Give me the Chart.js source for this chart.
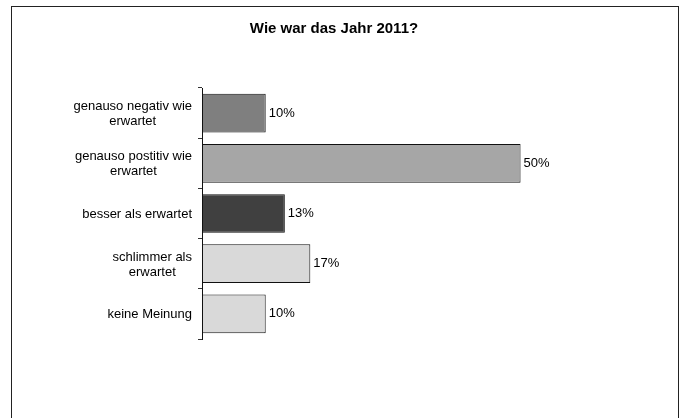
<!DOCTYPE html>
<html>
<head>
<meta charset="utf-8">
<script src="https://cdn.jsdelivr.net/npm/chart.js@4/dist/chart.umd.min.js"></script>
<style>
  html, body { margin: 0; padding: 0; background: #fff; }
  #wrap { position: relative; width: 683px; height: 418px; overflow: hidden; }
  #frame { position: absolute; left: 11px; top: 6px; width: 668px; height: 430px; border: 1.5px solid #222; box-sizing: border-box; }
  canvas { position: absolute; left: 0; top: 0; }
</style>
</head>
<body>
<div id="wrap">
  <div id="frame"></div>
  <canvas id="chart" width="683" height="418"></canvas>
</div>
<script>
// categories (each entry is one label, split into lines)
const categories = [
    ['genauso negativ wie', 'erwartet'],
    ['genauso postitiv wie', 'erwartet'],
    ['besser als erwartet'],
    ['schlimmer als', 'erwartet'],
    ['keine Meinung']
];
const percentValues = [10, 50, 13, 17, 10];
const barColors = ['#7f7f7f', '#a6a6a6', '#404040', '#d9d9d9', '#d9d9d9'];
const chartTitle = 'Wie war das Jahr 2011?';

const FONT = '"Liberation Sans", Arial, sans-serif';

// draws the title, the value labels at bar ends and the centered multi-line category labels
const labelPlugin = {
    id: 'labelPlugin',
    afterDatasetsDraw(chart) {
        const ctx = chart.ctx;
        const meta = chart.getDatasetMeta(0);
        ctx.save();
        ctx.fillStyle = '#000';
        ctx.textBaseline = 'middle';

        ctx.font = 'bold 15px ' + FONT;
        ctx.textAlign = 'center';
        ctx.fillText(chartTitle, 334, 29);

        ctx.font = '13px ' + FONT;
        ctx.textAlign = 'left';
        meta.data.forEach((bar, i) => {
            ctx.fillText(percentValues[i] + '%', bar.x + 3, bar.y);
        });

        const yScale = chart.scales.y;
        const rightEdge = yScale.right - 10;
        const lineH = 15;
        ctx.textAlign = 'center';
        categories.forEach((lines, i) => {
            const cy = yScale.getPixelForValue(i) + 1;
            const w = Math.max(...lines.map(l => ctx.measureText(l).width));
            const cx = rightEdge - w / 2;
            const y0 = cy - (lines.length - 1) * lineH / 2;
            lines.forEach((l, j) => ctx.fillText(l, cx, y0 + j * lineH));
        });
        ctx.restore();
    }
};

new Chart(document.getElementById('chart').getContext('2d'), {
    type: 'bar',
    data: {
        labels: categories.map(c => c.join(' ')),
        datasets: [{
            data: percentValues,
            backgroundColor: barColors,
            borderColor: '#111',
            borderWidth: 1,
            borderSkipped: false,
            categoryPercentage: 1,
            barPercentage: 0.77
        }]
    },
    options: {
        indexAxis: 'y',
        responsive: false,
        animation: false,
        layout: {
            padding: { left: 0, right: 35, top: 88, bottom: 79 }
        },
        scales: {
            x: {
                display: false,
                min: 0,
                max: 70
            },
            y: {
                afterFit(scale) { scale.width = 202; },
                ticks: { display: false },
                grid: {
                    offset: true,
                    drawOnChartArea: false,
                    drawTicks: true,
                    tickLength: 4,
                    color: '#333'
                },
                border: { display: true, color: '#111', width: 1 }
            }
        },
        plugins: {
            legend: { display: false },
            tooltip: { enabled: false },
            title: { display: false }
        }
    },
    plugins: [labelPlugin]
});
</script>
</body>
</html>
